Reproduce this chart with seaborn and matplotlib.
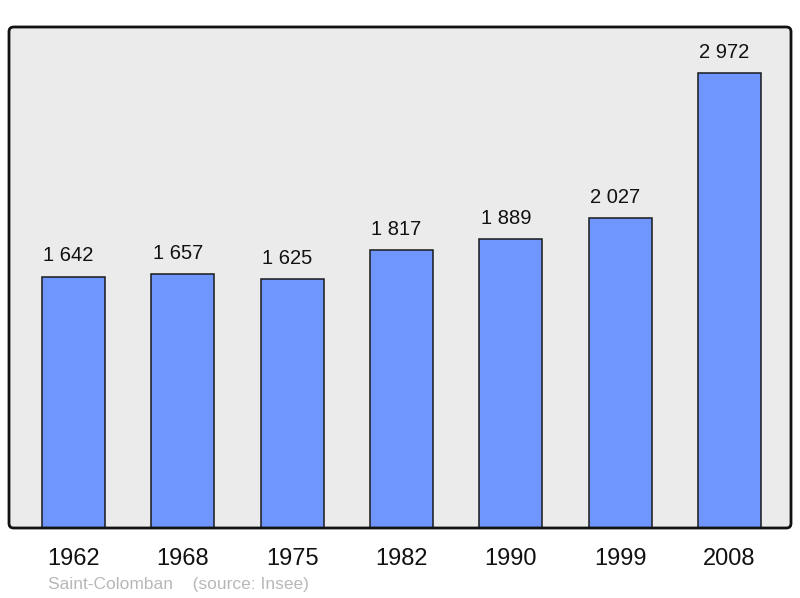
import matplotlib
matplotlib.use("Agg")
import matplotlib.pyplot as plt
import seaborn as sns
import pandas as pd
from matplotlib.patches import FancyBboxPatch

years = ["1962", "1968", "1975", "1982", "1990", "1999", "2008"]
population = [1642, 1657, 1625, 1817, 1889, 2027, 2972]
value_labels = ["1 642", "1 657", "1 625", "1 817", "1 889", "2 027", "2 972"]
footer = "Saint-Colomban    (source: Insee)"

sns.set_theme(style="white")
plt.rcParams['font.family'] = ['Liberation Sans', 'DejaVu Sans']

df = pd.DataFrame({"year": years, "pop": population})

fig = plt.figure(figsize=(8, 5.98), dpi=100)
ax = fig.add_axes([9/800, 70/598, 782/800, 501/598])
ax.set_facecolor("#ebebeb")

sns.barplot(data=df, x="year", y="pop", color="#6f96ff", saturation=1,
            edgecolor="#1a1a1a", linewidth=1.1, width=0.576, ax=ax)

ax.set_xlim(-0.59, 6.563)
ax.set_ylim(0, 3272)
ax.set_xlabel("")
ax.set_ylabel("")
ax.set_yticks([])
ax.tick_params(axis="x", length=0, labelsize=17, pad=14.5, colors="#111111")

for i, (v, lab) in enumerate(zip(population, value_labels)):
    ax.annotate(lab, (i, v), xytext=(-3.6, 8), textcoords="offset points",
                ha="center", va="bottom", fontsize=14.5, color="#111111")

for s in ax.spines.values():
    s.set_visible(False)

frame = FancyBboxPatch((0, 0), 1, 1, boxstyle="round,pad=0,rounding_size=0.006",
                       mutation_aspect=782/501, transform=ax.transAxes,
                       facecolor="none", edgecolor="#111111", linewidth=2,
                       clip_on=False, zorder=5)
ax.add_patch(frame)

fig.text(48/800, 1 - 584.5/598, footer, ha="left", va="center",
         fontsize=12.5, color="#b8b8b8")

fig.savefig("out.png", dpi=100, facecolor="white")
